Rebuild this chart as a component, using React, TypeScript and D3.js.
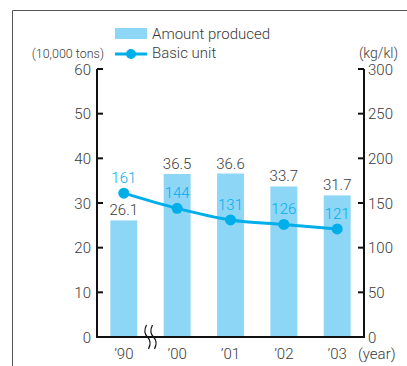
import * as d3 from 'd3';

const years = ['’90', '’00', '’01', '’02', '’03'];
const amountProduced = [26.1, 36.5, 36.6, 33.7, 31.7];
const basicUnit = [161, 144, 131, 126, 121];
const leftTicks = [0, 10, 20, 30, 40, 50, 60];
const rightTicks = [0, 50, 100, 150, 200, 250, 300];

const W = 407;
const H = 366;
const BAR = '#8ed6f6';
const LINE = '#00aee9';
const TXT = '#3a3a3a';
const FONT = 'Roboto, "Liberation Sans", sans-serif';

export default function App() {
  const plot = { left: 97, right: 364, top: 69, bottom: 337 };

  const x = d3.scaleBand<string>()
    .domain(years)
    .range([plot.left, plot.right])
    .paddingInner(0.495)
    .paddingOuter(0.25);
  const yL = d3.scaleLinear().domain([0, 60]).range([plot.bottom, plot.top]);
  const yR = d3.scaleLinear().domain([0, 300]).range([plot.bottom, plot.top]);

  const pts: [number, number][] = basicUnit.map((v, i) => [
    (x(years[i]) ?? 0) + x.bandwidth() / 2,
    yR(v),
  ]);
  const line = d3.line().curve(d3.curveMonotoneX)(pts) ?? '';

  // break mark between '90 and '00
  const bx = ((x(years[0]) ?? 0) + x.bandwidth() + (x(years[1]) ?? 0)) / 2;
  const squiggle = (cx: number) =>
    `M ${cx - 1},${plot.bottom - 12} C ${cx - 4},${plot.bottom - 6} ${cx - 3},${plot.bottom - 3} ${cx},${plot.bottom}` +
    ` C ${cx + 3},${plot.bottom + 3} ${cx + 4},${plot.bottom + 6} ${cx + 1},${plot.bottom + 12}`;

  return (
    <svg width={W} height={H} style={{ position: 'absolute', left: 0, top: 0 }} fontFamily={FONT} fontWeight={300}>
      <rect width={W} height={H} fill="#fff" />
      {/* frame */}
      <path d={`M 12.5,${H} V 10.5 H ${W}`} fill="none" stroke="#555" strokeWidth={1} />

      {/* legend */}
      <rect x={115} y={28} width={32} height={11} fill={BAR} />
      <text x={152} y={39} fontSize={15} fill={TXT}>Amount produced</text>
      <line x1={115} x2={147} y1={54} y2={54} stroke={LINE} strokeWidth={3} />
      <circle cx={131} cy={54} r={5} fill={LINE} />
      <text x={152} y={58} fontSize={15} fill={TXT}>Basic unit</text>

      {/* unit labels */}
      <text x={104} y={58} fontSize={12.5} textAnchor="end" fill={TXT}>(10,000 tons)</text>
      <text x={398} y={58} fontSize={14} textAnchor="end" fill={TXT}>(kg/kl)</text>

      {/* bars */}
      {amountProduced.map((v, i) => (
        <g key={years[i]}>
          <rect x={x(years[i])} y={yL(v)} width={x.bandwidth()} height={plot.bottom - yL(v)} fill={BAR} />
          <text x={(x(years[i]) ?? 0) + x.bandwidth() / 2} y={yL(v) - 5} fontSize={15} textAnchor="middle" fill={TXT}>
            {v.toFixed(1)}
          </text>
        </g>
      ))}

      {/* axes */}
      <path d={`M ${plot.left},${plot.top} V ${plot.bottom} H ${plot.right} V ${plot.top}`} fill="none" stroke="#111" strokeWidth={2} />
      {leftTicks.map((t) => (
        <g key={'l' + t}>
          <line x1={plot.left} x2={plot.left + 6} y1={yL(t)} y2={yL(t)} stroke="#111" strokeWidth={2} />
          <text x={91} y={yL(t) + 5.5} fontSize={15} textAnchor="end" fill={TXT}>{t}</text>
        </g>
      ))}
      {rightTicks.map((t) => (
        <g key={'r' + t}>
          <line x1={plot.right - 6} x2={plot.right} y1={yR(t)} y2={yR(t)} stroke="#111" strokeWidth={2} />
          <text x={368} y={yR(t) + 5.5} fontSize={15} fill={TXT}>{t}</text>
        </g>
      ))}

      {/* axis break */}
      <path d={squiggle(bx - 3)} fill="none" stroke="#111" strokeWidth={1.2} />
      <path d={squiggle(bx + 3)} fill="none" stroke="#111" strokeWidth={1.2} />

      {/* x labels */}
      {years.map((yr) => (
        <text key={yr} x={(x(yr) ?? 0) + x.bandwidth() / 2} y={359} fontSize={15} textAnchor="middle" fill={TXT}>{yr}</text>
      ))}
      <text x={358} y={359} fontSize={15} fill={TXT}>(year)</text>

      {/* line */}
      <path d={line} fill="none" stroke={LINE} strokeWidth={3} />
      {pts.map(([px, py], i) => (
        <g key={'p' + i}>
          <circle cx={px} cy={py} r={5.5} fill={LINE} />
          <text x={px} y={py - 10} fontSize={15} textAnchor="middle" fill={LINE}>{basicUnit[i]}</text>
        </g>
      ))}
    </svg>
  );
}
